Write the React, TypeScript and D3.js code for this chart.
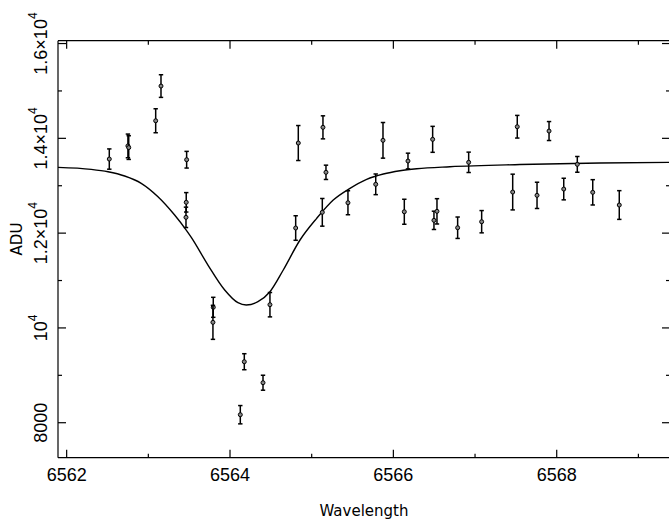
import React from "react";
import * as d3 from "d3";

// Observed spectrum: wavelength, ADU, 1-sigma error
const wavelengths = [
  6562.522, 6562.750, 6562.760, 6563.090, 6563.155, 6563.469, 6563.464, 6563.461,
  6563.795, 6563.791, 6564.489, 6564.175, 6564.404, 6564.126, 6564.836, 6565.138,
  6565.175, 6564.804, 6565.130, 6565.444, 6565.784, 6565.873, 6566.179, 6566.134,
  6566.481, 6566.497, 6566.534, 6566.787, 6566.922, 6567.081, 6567.517, 6567.461,
  6567.906, 6567.759, 6568.086, 6568.252, 6568.441, 6568.766,
];
const adu = [
  13563, 13840, 13805, 14371, 15103, 13549, 12650, 12333,
  10435, 10118, 10490, 9287, 8844, 8169, 13901, 14232,
  13283, 12108, 12439, 12641, 13030, 13958, 13521, 12451,
  13979, 12270, 12460, 12114, 13494, 12241, 14245, 12867,
  14154, 12797, 12930, 13451, 12861, 12593,
];
const aduErr = [
  214, 250, 250, 253, 239, 176, 205, 215,
  211, 359, 257, 169, 158, 193, 369, 243,
  151, 259, 292, 253, 218, 376, 166, 264,
  274, 193, 267, 226, 215, 235, 239, 377,
  200, 277, 228, 166, 267, 303,
];

// Fitted model curve
const fitWavelength = [
  6561.894, 6562.301, 6562.506, 6562.710, 6562.913, 6563.118, 6563.322, 6563.464,
  6563.526, 6563.730, 6563.935, 6564.097, 6564.199, 6564.342, 6564.489, 6564.652,
  6564.857, 6565.061, 6565.264, 6565.469, 6565.673, 6565.877, 6566.081, 6566.286,
  6566.693, 6567.550, 6568.530, 6569.387,
];
const fitAdu = [
  13388, 13346, 13295, 13205, 13051, 12768, 12382, 12065,
  11911, 11327, 10800, 10532, 10483, 10553, 10764, 11222,
  11855, 12312, 12698, 12945, 13135, 13247, 13316, 13359,
  13401, 13447, 13479, 13494,
];

const xMajorTicks = [6562, 6564, 6566, 6568];
const xMinorTicks = [6563, 6565, 6567, 6569];
const yMajorTicks = [8000, 10000, 12000, 14000, 16000];
const yMinorTicks = [9000, 11000, 13000, 15000];
const yTickMantissa = ["8000", "", "1.2×10", "1.4×10", "1.6×10"];
const yTickExponent = ["", "4", "4", "4", "4"];
const yTickBase = ["", "10", "", "", ""];

const W = 669;
const H = 520;
const L = 58, R = 670, T = 40.7, B = 457.7;

export default function App() {
  const x = d3.scaleLinear().domain([6561.894, 6569.387]).range([L, R]);
  const y = d3.scaleLinear().domain([7262, 16060]).range([B, T]);

  const fitPts: [number, number][] = fitWavelength.map((w, i) => [w, fitAdu[i]]);
  const line = d3
    .line<[number, number]>()
    .x((d) => x(d[0]))
    .y((d) => y(d[1]))
    .curve(d3.curveMonotoneX);

  const tickFont = "'Liberation Sans', Arial, sans-serif";
  const titleFont = "'DejaVu Sans', sans-serif";
  const major = 8;
  const minor = 4;

  return (
    <svg
      width={W}
      height={H}
      style={{ position: "absolute", left: 0, top: 0, background: "#fff" }}
    >
      <rect x={0} y={0} width={W} height={H} fill="#fff" />
      {/* frame */}
      <g stroke="#000" strokeWidth={1.2} fill="none">
        <line x1={L} y1={T} x2={R} y2={T} />
        <line x1={L} y1={B} x2={R} y2={B} />
        <line x1={L} y1={T} x2={L} y2={B} />
        <line x1={R} y1={T} x2={R} y2={B} />
        {xMajorTicks.map((t) => (
          <g key={"xM" + t}>
            <line x1={x(t)} x2={x(t)} y1={B} y2={B - major} />
            <line x1={x(t)} x2={x(t)} y1={T} y2={T + major} />
          </g>
        ))}
        {xMinorTicks.map((t) => (
          <g key={"xm" + t}>
            <line x1={x(t)} x2={x(t)} y1={B} y2={B - minor} />
            <line x1={x(t)} x2={x(t)} y1={T} y2={T + minor} />
          </g>
        ))}
        {yMajorTicks.map((t) => (
          <g key={"yM" + t}>
            <line x1={L} x2={L + major} y1={y(t)} y2={y(t)} />
            <line x1={R} x2={R - major} y1={y(t)} y2={y(t)} />
          </g>
        ))}
        {yMinorTicks.map((t) => (
          <g key={"ym" + t}>
            <line x1={L} x2={L + minor} y1={y(t)} y2={y(t)} />
            <line x1={R} x2={R - minor} y1={y(t)} y2={y(t)} />
          </g>
        ))}
      </g>

      {/* x tick labels */}
      <g fontFamily={tickFont} fontSize={18} fill="#000" textAnchor="middle">
        {xMajorTicks.map((t) => (
          <text key={"xl" + t} x={x(t)} y={480.7}>
            {t}
          </text>
        ))}
      </g>

      {/* y tick labels (rotated) */}
      <g fontFamily={tickFont} fontSize={18} fill="#000">
        {yMajorTicks.map((t, i) => (
          <text
            key={"yl" + t}
            transform={`translate(46.7,${y(t)}) rotate(-90)`}
            textAnchor="middle"
          >
            {yTickMantissa[i]}
            {yTickBase[i]}
            {yTickExponent[i] ? (
              <tspan fontSize={12} dy={-10}>
                {yTickExponent[i]}
              </tspan>
            ) : null}
          </text>
        ))}
      </g>

      {/* axis titles */}
      <text
        x={364}
        y={516}
        fontFamily={titleFont}
        fontSize={15}
        textAnchor="middle"
        fill="#000"
      >
        Wavelength
      </text>
      <text
        transform={`translate(21.5,${239}) rotate(-90)`}
        fontFamily={titleFont}
        fontSize={15}
        textAnchor="middle"
        fill="#000"
      >
        ADU
      </text>

      {/* fit curve */}
      <path d={line(fitPts) || ""} fill="none" stroke="#000" strokeWidth={1.4} />

      {/* data with error bars */}
      <g stroke="#000" strokeWidth={1.5}>
        {wavelengths.map((w, i) => {
          const cx = x(w);
          const top = y(adu[i] + aduErr[i]);
          const bot = y(adu[i] - aduErr[i]);
          return (
            <g key={"p" + i}>
              <line x1={cx} x2={cx} y1={top} y2={bot} />
              <line x1={cx - 2.2} x2={cx + 2.2} y1={top} y2={top} />
              <line x1={cx - 2.2} x2={cx + 2.2} y1={bot} y2={bot} />
              <circle cx={cx} cy={y(adu[i])} r={2} fill="#888" strokeWidth={1} />
            </g>
          );
        })}
      </g>
    </svg>
  );
}
